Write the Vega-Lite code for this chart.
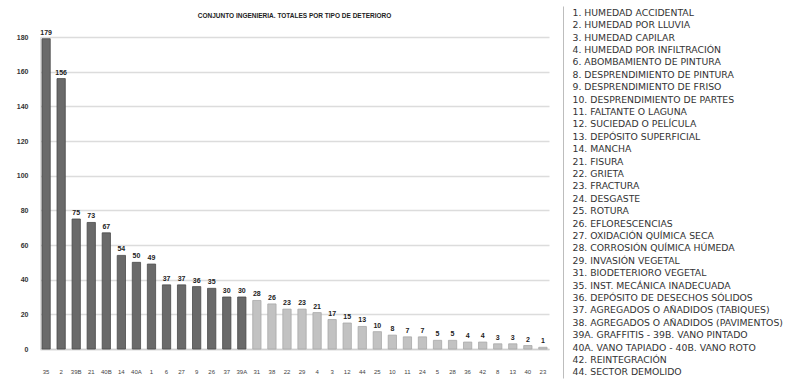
{
  "$schema": "https://vega.github.io/schema/vega-lite/v6.json",
  "background": "white",
  "padding": {"left": 16, "top": 8, "right": 0, "bottom": 0},
  "spacing": 10,
  "config": {
    "view": {"stroke": null},
    "font": "Liberation Sans"
  },
  "datasets": {
    "bars": [
      {"n": 1, "code": "35", "total": 179, "grupo": "A"},
      {"n": 2, "code": "2", "total": 156, "grupo": "A"},
      {"n": 3, "code": "39B", "total": 75, "grupo": "A"},
      {"n": 4, "code": "21", "total": 73, "grupo": "A"},
      {"n": 5, "code": "40B", "total": 67, "grupo": "A"},
      {"n": 6, "code": "14", "total": 54, "grupo": "A"},
      {"n": 7, "code": "40A", "total": 50, "grupo": "A"},
      {"n": 8, "code": "1", "total": 49, "grupo": "A"},
      {"n": 9, "code": "6", "total": 37, "grupo": "A"},
      {"n": 10, "code": "27", "total": 37, "grupo": "A"},
      {"n": 11, "code": "9", "total": 36, "grupo": "A"},
      {"n": 12, "code": "26", "total": 35, "grupo": "A"},
      {"n": 13, "code": "37", "total": 30, "grupo": "A"},
      {"n": 14, "code": "39A", "total": 30, "grupo": "A"},
      {"n": 15, "code": "31", "total": 28, "grupo": "B"},
      {"n": 16, "code": "38", "total": 26, "grupo": "B"},
      {"n": 17, "code": "22", "total": 23, "grupo": "B"},
      {"n": 18, "code": "29", "total": 23, "grupo": "B"},
      {"n": 19, "code": "4", "total": 21, "grupo": "B"},
      {"n": 20, "code": "3", "total": 17, "grupo": "B"},
      {"n": 21, "code": "12", "total": 15, "grupo": "B"},
      {"n": 22, "code": "44", "total": 13, "grupo": "B"},
      {"n": 23, "code": "25", "total": 10, "grupo": "B"},
      {"n": 24, "code": "10", "total": 8, "grupo": "B"},
      {"n": 25, "code": "11", "total": 7, "grupo": "B"},
      {"n": 26, "code": "24", "total": 7, "grupo": "B"},
      {"n": 27, "code": "5", "total": 5, "grupo": "B"},
      {"n": 28, "code": "28", "total": 5, "grupo": "B"},
      {"n": 29, "code": "36", "total": 4, "grupo": "B"},
      {"n": 30, "code": "42", "total": 4, "grupo": "B"},
      {"n": 31, "code": "8", "total": 3, "grupo": "B"},
      {"n": 32, "code": "13", "total": 3, "grupo": "B"},
      {"n": 33, "code": "40", "total": 2, "grupo": "B"},
      {"n": 34, "code": "23", "total": 1, "grupo": "B"}
    ],
    "leyenda": [
      {"n": 1, "label": "1. HUMEDAD ACCIDENTAL"},
      {"n": 2, "label": "2. HUMEDAD POR LLUVIA"},
      {"n": 3, "label": "3. HUMEDAD CAPILAR"},
      {"n": 4, "label": "4.  HUMEDAD POR INFILTRACIÓN"},
      {"n": 5, "label": "6. ABOMBAMIENTO DE PINTURA"},
      {"n": 6, "label": "8. DESPRENDIMIENTO DE PINTURA"},
      {"n": 7, "label": "9. DESPRENDIMIENTO DE FRISO"},
      {"n": 8, "label": "10. DESPRENDIMIENTO DE PARTES"},
      {"n": 9, "label": "11. FALTANTE O LAGUNA"},
      {"n": 10, "label": "12. SUCIEDAD O PELÍCULA"},
      {"n": 11, "label": "13. DEPÓSITO SUPERFICIAL"},
      {"n": 12, "label": "14. MANCHA"},
      {"n": 13, "label": "21. FISURA"},
      {"n": 14, "label": "22. GRIETA"},
      {"n": 15, "label": "23. FRACTURA"},
      {"n": 16, "label": "24. DESGASTE"},
      {"n": 17, "label": "25. ROTURA"},
      {"n": 18, "label": "26. EFLORESCENCIAS"},
      {"n": 19, "label": "27. OXIDACIÓN QUÍMICA SECA"},
      {"n": 20, "label": "28. CORROSIÓN QUÍMICA HÚMEDA"},
      {"n": 21, "label": "29. INVASIÓN VEGETAL"},
      {"n": 22, "label": "31. BIODETERIORO  VEGETAL"},
      {"n": 23, "label": "35. INST. MECÁNICA INADECUADA"},
      {"n": 24, "label": "36. DEPÓSITO DE DESECHOS SÓLIDOS"},
      {"n": 25, "label": "37. AGREGADOS O AÑADIDOS  (TABIQUES)"},
      {"n": 26, "label": "38. AGREGADOS O AÑADIDOS (PAVIMENTOS)"},
      {"n": 27, "label": "39A. GRAFFITIS  - 39B. VANO PINTADO"},
      {"n": 28, "label": "40A. VANO TAPIADO   -  40B. VANO ROTO"},
      {"n": 29, "label": "42. REINTEGRACIÓN"},
      {"n": 30, "label": "44. SECTOR DEMOLIDO"}
    ]
  },
  "hconcat": [
    {
      "width": 509,
      "height": 312,
      "data": {"name": "bars"},
      "title": {
        "text": "CONJUNTO INGENIERIA. TOTALES POR TIPO DE DETERIORO",
        "fontSize": 6.5,
        "fontWeight": "bold",
        "color": "#222",
        "offset": 9,
        "anchor": "middle"
      },
      "encoding": {
        "x": {
          "field": "code",
          "type": "nominal",
          "sort": {"field": "n", "order": "ascending"},
          "scale": {"paddingInner": 0.45, "paddingOuter": 0.13},
          "axis": {
            "title": null,
            "labelAngle": 0,
            "labelFontSize": 6,
            "labelColor": "#444",
            "labelPadding": 19,
            "ticks": false,
            "domainColor": "#cfcfcf",
            "domainWidth": 1.5
          }
        },
        "y": {
          "field": "total",
          "type": "quantitative",
          "scale": {"domain": [0, 180]},
          "axis": {
            "title": null,
            "values": [0, 20, 40, 60, 80, 100, 120, 140, 160, 180],
            "labelFontSize": 7,
            "labelFontWeight": "bold",
            "labelColor": "#333",
            "labelPadding": 12,
            "ticks": false,
            "domainColor": "#dddddd",
            "gridColor": "#dcdcdc",
            "gridWidth": 1.5
          }
        }
      },
      "layer": [
        {
          "mark": {"type": "bar", "strokeWidth": 0.8},
          "encoding": {
            "color": {
              "field": "grupo",
              "type": "nominal",
              "scale": {"domain": ["A", "B"], "range": ["#6a6a6a", "#c2c2c2"]},
              "legend": null
            },
            "stroke": {
              "field": "grupo",
              "type": "nominal",
              "scale": {"domain": ["A", "B"], "range": ["#4a4a4a", "#a8a8a8"]},
              "legend": null
            }
          }
        },
        {
          "mark": {"type": "text", "dy": -6, "fontSize": 7, "fontWeight": "bold", "color": "#222"},
          "encoding": {"text": {"field": "total", "type": "quantitative"}}
        }
      ]
    },
    {
      "width": 1,
      "height": 312,
      "data": {"name": "leyenda"},
      "mark": {"type": "point", "opacity": 0},
      "encoding": {
        "y": {
          "field": "label",
          "type": "nominal",
          "sort": {"field": "n", "order": "ascending"},
          "scale": {"padding": 0.5, "range": [-31, 341]},
          "axis": {
            "orient": "right",
            "title": null,
            "ticks": false,
            "grid": false,
            "labelAlign": "left",
            "labelPadding": 9,
            "labelLimit": 0,
            "labelFont": "DejaVu Sans",
            "labelFontSize": 9.3,
            "labelColor": "#333",
            "domainColor": "#bdbdbd",
            "domainWidth": 1
          }
        }
      }
    }
  ]
}
